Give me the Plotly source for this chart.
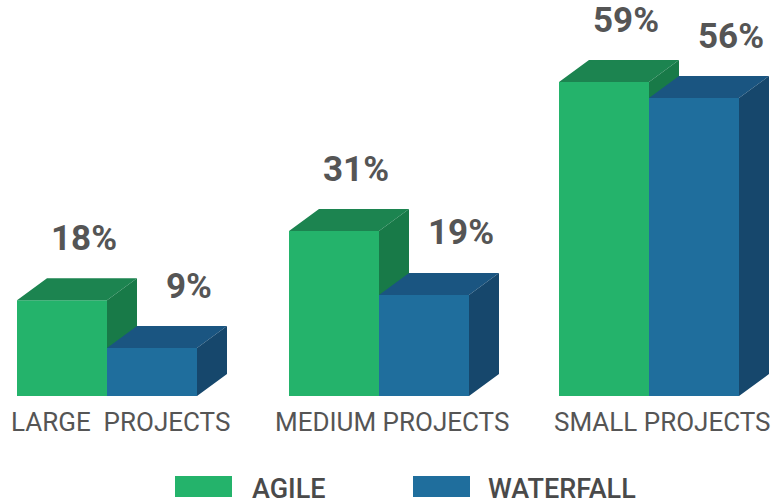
import plotly.graph_objects as go

categories = ["LARGE  PROJECTS", "MEDIUM PROJECTS", "SMALL PROJECTS"]
agile = [18, 31, 59]
waterfall = [9, 19, 56]
series_names = ["AGILE", "WATERFALL"]

W, H = 772, 504
BASE_PX = 396          # pixel row of 0%
PX_PER_PCT = 5.32
Y0 = -(H - BASE_PX) / PX_PER_PCT
Y1 = BASE_PX / PX_PER_PCT

group_left = [17, 289, 559]
bar_w = 90
dx = 30
dy = 22 / PX_PER_PCT

colors = {
    "AGILE": {"front": "#24B36B", "top": "#1C8450", "side": "#187A48"},
    "WATERFALL": {"front": "#1F6E9D", "top": "#1A5581", "side": "#16476C"},
}

fig = go.Figure()


def faces(x0, v):
    x1 = x0 + bar_w
    front = [(x0, 0), (x1, 0), (x1, v), (x0, v), (x0, 0)]
    top = [(x0, v), (x1, v), (x1 + dx, v + dy), (x0 + dx, v + dy), (x0, v)]
    side = [(x1, 0), (x1 + dx, dy), (x1 + dx, v + dy), (x1, v), (x1, 0)]
    return {"front": front, "top": top, "side": side}


for si, (name, vals) in enumerate(zip(series_names, [agile, waterfall])):
    polys = {"front": [], "top": [], "side": []}
    for gi, v in enumerate(vals):
        x0 = group_left[gi] + si * bar_w
        f = faces(x0, v)
        for k in polys:
            polys[k].append(f[k])
    for k in ["front", "top", "side"]:
        xs, ys = [], []
        for p in polys[k]:
            xs += [q[0] for q in p] + [None]
            ys += [q[1] for q in p] + [None]
        fig.add_trace(go.Scatter(
            x=xs, y=ys, mode="lines", fill="toself",
            fillcolor=colors[name][k], line=dict(width=0, color=colors[name][k]),
            hoverinfo="skip", showlegend=False, name=name,
        ))

# value labels
label_dx = [22, 37]
for si, vals in enumerate([agile, waterfall]):
    for gi, v in enumerate(vals):
        xc = group_left[gi] + si * bar_w + bar_w / 2 + label_dx[si]
        fig.add_annotation(
            x=xc, y=v, yshift=62, text=f"<b>{v}%</b>", showarrow=False,
            font=dict(family="Roboto", size=35, color="#555555"),
            xanchor="center", yanchor="middle",
        )

# category labels
for gi, c in enumerate(categories):
    fig.add_annotation(
        x=group_left[gi] + 103, y=0, yshift=-26, text=c.replace("  ", "&nbsp; "),
        showarrow=False, font=dict(family="Roboto", size=26, color="#555555"),
        xanchor="center", yanchor="middle",
    )

# legend
legend_items = [(175, 232, 250), (413, 470, 486)]
for (sx0, sx1, tx), name in zip(legend_items, series_names):
    fig.add_shape(type="rect", xref="paper", yref="paper",
                  x0=sx0 / W, x1=sx1 / W, y0=1 - 497 / H, y1=1 - 476 / H,
                  fillcolor=colors[name]["front"], line=dict(width=0))
    fig.add_annotation(xref="paper", yref="paper", x=tx / W, y=1 - 489 / H,
                       text=name, showarrow=False, xanchor="left", yanchor="middle",
                       font=dict(family="Roboto", size=27, color="#4A4A4A", weight=500))

fig.update_layout(
    width=W, height=H, margin=dict(l=0, r=0, t=0, b=0),
    plot_bgcolor="white", paper_bgcolor="white",
    xaxis=dict(range=[0, W], visible=False, fixedrange=True),
    yaxis=dict(range=[Y0, Y1], visible=False, fixedrange=True),
    showlegend=False,
)

fig.write_html("out.html")
